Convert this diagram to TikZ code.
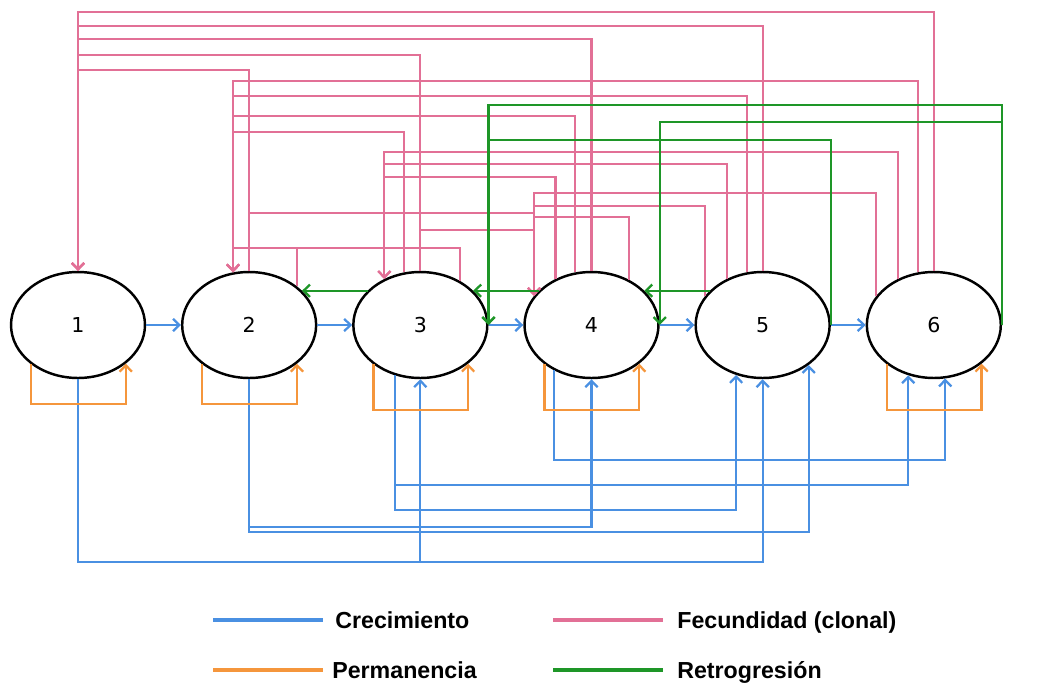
\documentclass[tikz,border=0pt]{standalone}
\usepackage{fontspec}
\setmainfont{Liberation Sans}
\newfontfamily\numfont{DejaVu Sans}
\usepackage{tikz}
\usetikzlibrary{shapes.geometric}
\usetikzlibrary{arrows.meta}
\definecolor{azul}{RGB}{74,144,226}
\definecolor{rosa}{RGB}{226,112,150}
\definecolor{naranja}{RGB}{245,150,60}
\definecolor{verde}{RGB}{30,150,40}

\begin{document}
\begin{tikzpicture}[->, >={Straight Barb[length=3.6pt,width=7pt]}, x=0.02cm, y=-0.02cm, node distance=3.424cm]
    \tikzstyle{clase}=[ellipse, draw=black, line width=1.4pt, fill=white, minimum width=2.68cm, minimum height=2.12cm, inner sep=0pt, font=\numfont\fontsize{11.7}{13}\selectfont]
    \tikzstyle{crec}=[draw=azul, line width=1.3pt]
    \tikzstyle{fec}=[draw=rosa, line width=1.2pt]
    \tikzstyle{perm}=[draw=naranja, line width=1.3pt]
    \tikzstyle{retro}=[draw=verde, line width=1.3pt]
    \tikzstyle{muestra}=[-, line width=1.8pt]
    \tikzstyle{leyenda}=[anchor=base west, inner sep=0pt, font=\bfseries\fontsize{13.2}{15}\selectfont]
    \useasboundingbox (0,0) rectangle (1038,683);
    \node[clase]    (s1) at (78,325)   {1};
    \node[clase]    (s2)[right of=s1]  {2};
    \node[clase]    (s3)[right of=s2]  {3};
    \node[clase]    (s4)[right of=s3]  {4};
    \node[clase]    (s5)[right of=s4]  {5};
    \node[clase]    (s6)[right of=s5]  {6};
    \foreach \ori/\ao/\des/\ad/\niv in {6/90/1/90/12, 5/90/1/90/26, 4/90/1/90/39, 3/90/1/90/55, 2/90/1/90/70,
        6/107/2/107/81, 5/107/2/107/96, 4/107/2/107/116, 3/107/2/107/132, 3/48/2/107/248, 2/39/2/107/248,
        6/128/3/128/152, 5/128/3/128/164, 4/128/3/128/177,
        6/153/4/153/193, 5/153/4/153/206, 2/90/4/153/213, 4/50/4/153/217, 3/90/4/153/230}
      \draw[fec] (s\ori.\ao) -- (s\ori.\ao|-0,\niv) -| (s\des.\ad);
    \foreach \i/\j in {1/2, 2/3, 3/4, 4/5, 5/6}
      \draw[crec] (s\i) -- (s\j);
    \foreach \ori/\ao/\des/\ad/\niv in {1/270/3/270/562, 1/270/5/270/562, 2/270/4/270/527, 2/270/5/319/532,
        3/243/5/242/510, 3/243/6/243/485, 4/230/6/282/460}
      \draw[crec] (s\ori.\ao) -- (s\ori.\ao|-0,\niv) -| (s\des.\ad);
    \foreach \i/\niv in {1/404, 2/404, 3/410, 4/410, 6/410}
      \draw[perm] (s\i.220) -- (s\i.220|-0,\niv) -| (s\i.321);
    \foreach \i/\j in {3/2, 4/3, 5/4}
      \draw[retro] (s\i.147) -- (s\j.33);
    \foreach \ori/\des/\niv in {6/3/105, 6/4/122, 5/3/140}
      \draw[retro] (s\ori.east) -- (s\ori.east|-0,\niv) -| (s\des.east);
    \draw[crec, muestra]  (213,620) -- (323,620);
    \node[leyenda] (lcrec)  at (335,628) {Crecimiento};
    \draw[fec, muestra]   (553,620) -- (663,620);
    \node[leyenda] (lfec)   at (677,628) {Fecundidad (clonal)};
    \draw[perm, muestra]  (213,670) -- (323,670);
    \node[leyenda] (lperm)  at (332,678) {Permanencia};
    \draw[retro, muestra] (553,670) -- (663,670);
    \node[leyenda] (lretro) at (677,678) {Retrogresión};
\end{tikzpicture}
\end{document}
